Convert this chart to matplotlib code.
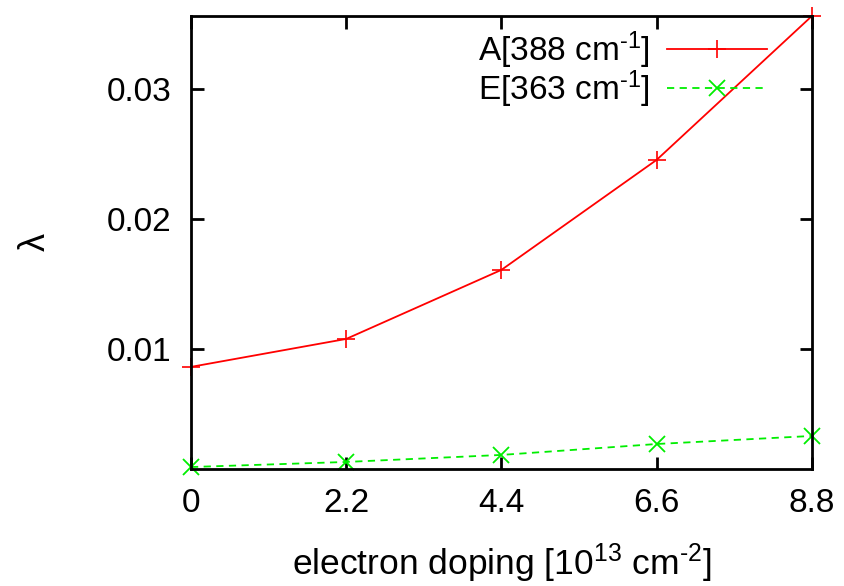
import matplotlib
matplotlib.use("Agg")
import matplotlib.pyplot as plt

plt.rcParams['font.family'] = ['Liberation Sans', 'DejaVu Sans']
plt.rcParams['mathtext.fontset'] = 'custom'
plt.rcParams['mathtext.rm'] = 'Liberation Sans'
plt.rcParams['mathtext.it'] = 'Liberation Sans'

# datos
doping = [0, 2.2, 4.4, 6.6, 8.8]
lam_A = [0.00862, 0.01077, 0.01608, 0.02454, 0.0356]
lam_E = [0.00092, 0.00131, 0.00185, 0.00269, 0.00331]
xticks = [0, 2.2, 4.4, 6.6, 8.8]
yticks = [0.01, 0.02, 0.03]

fig = plt.figure(figsize=(8.44, 5.86), dpi=100)
ax = fig.add_axes([0.2263, 0.1997, 0.7357, 0.773])

ax.plot(doping, lam_A, color='#ff0000', lw=1.3, marker='+', ms=13, mew=1.2,
        label='A[388 cm$^{\u20101}$]', clip_on=False)
ax.plot(doping, lam_E, color='#00ee00', lw=1.3, ls=(0, (4, 3)), marker='x', ms=11,
        mew=1.3, label='E[363 cm$^{\u20101}$]', clip_on=False)

ax.set_xlim(0, 8.8)
ax.set_ylim(0.00077, 0.0356)
ax.set_xticks(xticks)
ax.set_xticklabels(['0', '2.2', '4.4', '6.6', '8.8'])
ax.set_yticks(yticks)
ax.set_yticklabels(['0.01', '0.02', '0.03'])

ax.tick_params(direction='in', length=9, width=2, labelsize=24,
               top=True, right=True, pad=14)
for s in ax.spines.values():
    s.set_linewidth(2)

ax.set_xlabel('electron doping [10$^{13}$ cm$^{\u20102}$]', fontsize=25.5, labelpad=16)
ax.set_ylabel(r'$\lambda$', fontsize=26, labelpad=39)

ax.legend(loc='upper right', frameon=False, markerfirst=False, fontsize=24,
          handlelength=3.0, handletextpad=0.5, labelspacing=-0.08,
          borderaxespad=0.3, bbox_to_anchor=(0.965, 1.022))

fig.savefig('out.png', dpi=100)
